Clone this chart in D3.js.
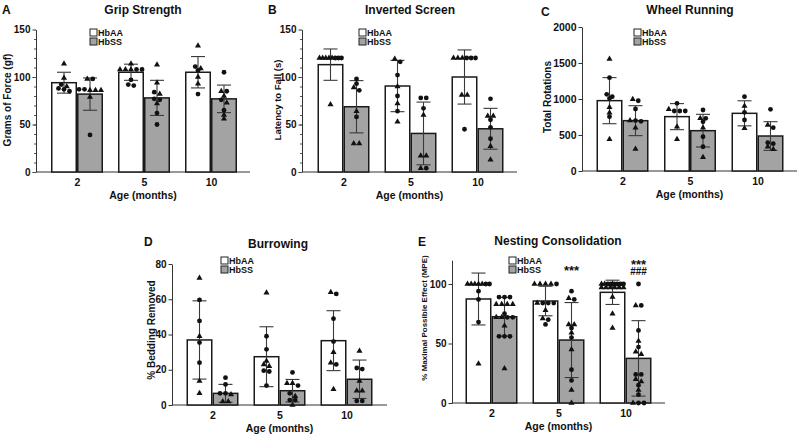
<!DOCTYPE html>
<html><head><meta charset="utf-8">
<script src="https://cdn.jsdelivr.net/npm/d3@7"></script>
<style>
body{margin:0;background:#fff;}
svg text{font-family:"Liberation Sans",Arial,sans-serif;font-weight:bold;fill:#111;}
</style></head>
<body><svg id="c" width="800" height="437"></svg>
<script>
const ages = ["2", "5", "10"];
const groups = ["HbAA", "HbSS"];

// A: Grip Strength
const gripMeanAA = [94, 105, 105], gripSdAA = [11, 8.5, 16.5];
const gripMeanSS = [82, 78, 77], gripSdSS = [17, 18.5, 14.5];
const gripTriAA = [[114, 99, 90], [114, 108, 108, 108], [133, 109, 100, 93]];
const gripCirAA = [[92, 88, 87, 85], [108, 108, 97, 92, 91], [111, 107, 82]];
const gripTriSS = [[98, 86, 86, 86, 79], [113, 94, 82, 72], [85, 80, 73, 60, 56]];
const gripCirSS = [[98, 87, 87, 39], [84, 77, 76, 62, 50], [105, 85, 76, 65]];

// B: Inverted Screen
const invMeanAA = [113, 90.5, 100], invSdAA = [16.5, 27, 28.5];
const invMeanSS = [68.7, 40.6, 45.5], invSdSS = [27.5, 33, 21.5];
const invTriAA = [[120, 120, 120, 120, 120, 71], [119, 90, 72, 53], [120, 120, 120, 81, 81]];
const invCirAA = [[120, 120, 120], [116, 102, 80, 64], [120, 120, 120, 45]];
const invTriSS = [[89, 64, 30, 30], [60, 17, 17, 4], [59, 59, 27, 13]];
const invCirSS = [[98, 93, 86, 58], [78, 78, 67, 4], [77, 55, 47, 35]];

// C: Wheel Running
const wheelMeanAA = [977, 755, 801], wheelSdAA = [320, 181, 174];
const wheelMeanSS = [699, 560, 486], wheelSdSS = [208, 227, 199];
const wheelTriAA = [[1556, 885, 810, 440], [857, 615, 440], [903, 593]];
const wheelCirAA = [[1296, 1065, 1032, 1010, 755], [940, 833, 833, 833], [1032, 815, 708]];
const wheelTriSS = [[995, 700, 600, 305], [732, 600, 190], [639, 337, 301]];
const wheelCirSS = [[976, 861, 700, 690], [847, 732, 685, 476, 337], [857, 602, 393, 380]];

// D: Burrowing
const burMeanAA = [36.9, 27.4, 36.5], burSdAA = [22.2, 17, 17];
const burMeanSS = [6.6, 8.1, 14.6], burSdSS = [5.1, 6.4, 10.9];
const burTriAA = [[72, 39, 13.6, 6.6], [63.7, 25, 23, 22], [64, 30, 24, 9]];
const burCirAA = [[59.6, 47.7, 35.4, 24], [39, 31.6, 19.5, 19, 11], [63, 49, 36, 23]];
const burTriSS = [[6, 2, 2], [12.3, 12.3, 5, 0], [30.6, 13.6, 8.1, 8.1]];
const burCirSS = [[15.5, 11.7, 6.6, 6.6], [18.5, 11, 6.6, 2.8, 2.8], [21, 20.4, 2.3, 2.3]];

// E: Nesting Consolidation
const nestMeanAA = [87.4, 85.7, 93], nestSdAA = [21.8, 12.4, 10.2];
const nestMeanSS = [72.5, 52.9, 37.5], nestSdSS = [16.2, 31.5, 31.7];
const nestTriAA = [[100, 100, 100, 100, 100, 33], [100, 100, 100, 100, 84, 78, 71], [100, 100, 97, 97, 97, 97, 97, 97, 89, 75, 63]];
const nestCirAA = [[100, 100, 94, 87, 68], [100, 84, 84, 84, 70, 66], [100, 100, 100, 100, 100, 100]];
const nestTriSS = [[83, 83, 83, 83, 72, 72, 65, 29], [88, 66, 66, 59, 45, 11, 0], [82, 52, 43, 41, 20, 18, 11, 0]];
const nestCirSS = [[89, 89, 89, 75, 72, 72, 56, 56, 56], [94, 87, 63, 55, 28, 19], [100, 82, 61, 47, 24, 24, 15, 7, 0, 0]];
const nestSig = [["", ""], ["***", ""], ["***", "###"]];

const svg = d3.select("#c");
const fills = {HbAA: "#ffffff", HbSS: "#a3a3a3"};
const BW = 26;

function panel(cfg) {
  const g = svg.append("g");
  const y = d3.scaleLinear().domain(cfg.domain).range(cfg.yr);
  const xc = d3.scalePoint().domain(ages).range(cfg.centers);
  const xg = d3.scaleBand().domain(groups).range([-BW, BW]);

  // axes
  const ya = d3.axisLeft(y).tickValues(cfg.ticks).tickSize(3.5).tickSizeOuter(0).tickPadding(2).tickFormat(d3.format("d"));
  const yg = g.append("g").attr("transform", `translate(${cfg.ax},0)`).call(ya);
  yg.selectAll("text").style("font-size", cfg.tf + "px").style("font-weight", "bold");
  yg.selectAll("path,line").attr("stroke", "#333");
  if (cfg.minor) {
    const mg = g.append("g").attr("transform", `translate(${cfg.ax},0)`)
      .call(d3.axisLeft(y).tickValues(d3.range(cfg.domain[0], cfg.domain[1], cfg.minor)).tickSize(2).tickFormat(""));
    mg.select(".domain").remove();
    mg.selectAll("line").attr("stroke", "#555");
  }
  g.append("line").attr("x1", cfg.ax).attr("x2", cfg.end).attr("y1", y(0)).attr("y2", y(0))
    .attr("stroke", "#333").attr("stroke-width", 1);
  const xa = g.append("g").attr("transform", `translate(0,${y(0)})`)
    .call(d3.axisBottom(xc).tickSize(0).tickPadding(7));
  xa.select(".domain").remove();
  xa.selectAll("text").style("font-size", "10.5px").style("font-weight", "bold");

  // titles
  g.append("text").attr("x", cfg.title[1]).attr("y", cfg.title[2]).attr("text-anchor", "middle")
    .style("font-size", "12px").text(cfg.title[0]);
  g.append("text").attr("x", cfg.letter[1]).attr("y", cfg.letter[2])
    .style("font-size", "12px").text(cfg.letter[0]);
  g.append("text").attr("x", (cfg.ax + cfg.end) / 2).attr("y", y(0) + 27).attr("text-anchor", "middle")
    .style("font-size", "10.5px").text("Age (months)");
  g.append("text").attr("transform", `translate(${cfg.ylab[1]},${cfg.ylab[2]}) rotate(-90)`)
    .attr("text-anchor", "middle").style("font-size", cfg.ylab[3] + "px").text(cfg.ylab[0]);

  // legend
  groups.forEach((k, i) => {
    g.append("rect").attr("x", cfg.leg[0]).attr("y", cfg.leg[1] + i * 9).attr("width", 7).attr("height", 7)
      .attr("fill", fills[k]).attr("stroke", "#222").attr("stroke-width", 1);
    g.append("text").attr("x", cfg.leg[0] + 8).attr("y", cfg.leg[1] + i * 9 + 7)
      .style("font-size", "9px").text(k);
  });

  // bars / error / points
  const sets = {
    HbAA: {m: cfg.mAA, s: cfg.sAA, t: cfg.tAA, c: cfg.cAA},
    HbSS: {m: cfg.mSS, s: cfg.sSS, t: cfg.tSS, c: cfg.cSS}
  };
  groups.forEach(k => {
    const d = sets[k];
    ages.forEach((a, i) => {
      const x0 = xc(a) + xg(k);
      const cx = x0 + BW / 2;
      g.append("rect").attr("x", x0 + 0.75).attr("width", BW - 1.5)
        .attr("y", y(d.m[i])).attr("height", y(0) - y(d.m[i]))
        .attr("fill", fills[k]).attr("stroke", "#1a1a1a").attr("stroke-width", 1.5);
      const lo = Math.max(cfg.domain[0], d.m[i] - d.s[i]), hi = d.m[i] + d.s[i];
      const eb = g.append("g").attr("stroke", "#3a3a3a").attr("stroke-width", 1.1);
      eb.append("line").attr("x1", cx).attr("x2", cx).attr("y1", y(lo)).attr("y2", y(hi));
      [lo, hi].forEach(v => eb.append("line").attr("x1", cx - 7).attr("x2", cx + 7).attr("y1", y(v)).attr("y2", y(v)));

      // points with simple dodge
      const pts = d.t[i].map(v => ({v, s: "t"})).concat(d.c[i].map(v => ({v, s: "c"})));
      pts.sort((p, q) => q.v - p.v);
      const rows = [];
      pts.forEach(p => {
        const py = y(p.v);
        const r = rows[rows.length - 1];
        if (r && Math.abs(py - r.y) <= 3) r.p.push(p); else rows.push({y: py, p: [p]});
      });
      rows.forEach(r => {
        const n = r.p.length;
        const sp = n > 1 ? Math.min(5.5, (BW - 4) / (n - 1)) : 0;
        r.p.forEach((p, j) => {
          const px = cx + (j - (n - 1) / 2) * sp;
          const py = y(p.v);
          if (p.s === "c") g.append("circle").attr("cx", px).attr("cy", py).attr("r", 2.4).attr("fill", "#111");
          else g.append("path").attr("d", d3.symbol(d3.symbolTriangle, 16)()).attr("transform", `translate(${px},${py})`).attr("fill", "#111");
        });
      });
      if (cfg.sig && k === "HbSS") {
        const sg = cfg.sig[i];
        if (sg[0] && !sg[1]) g.append("text").attr("x", cx).attr("y", cfg.sigY[0]).attr("text-anchor", "middle").style("font-size", "13px").text(sg[0]);
        if (sg[1]) {
          const t = g.append("text").attr("x", cx).attr("y", cfg.sigY[1]).attr("text-anchor", "middle");
          t.append("tspan").attr("x", cx).style("font-size", "13px").text(sg[0]);
          t.append("tspan").attr("x", cx).attr("dy", 5.5).style("font-size", "10px").text(sg[1]);
        }
      }
    });
  });
}

panel({domain: [0, 150], yr: [172, 29.5], ticks: [0, 50, 100, 150], minor: 10, ax: 36, end: 250, centers: [77, 211], tf: 10,
  title: ["Grip Strength", 143, 14], letter: ["A", 2, 14], ylab: ["Grams of Force (gf)", 10.5, 100, 10], leg: [90, 29],
  mAA: gripMeanAA, sAA: gripSdAA, mSS: gripMeanSS, sSS: gripSdSS, tAA: gripTriAA, cAA: gripCirAA, tSS: gripTriSS, cSS: gripCirSS});
panel({domain: [0, 150], yr: [172, 29.5], ticks: [0, 50, 100, 150], minor: 10, ax: 302, end: 517, centers: [343.5, 477.5], tf: 10,
  title: ["Inverted Screen", 410, 14], letter: ["B", 268, 14], ylab: ["Latency to Fall (s)", 280.5, 100, 9.5], leg: [359, 29],
  mAA: invMeanAA, sAA: invSdAA, mSS: invMeanSS, sSS: invSdSS, tAA: invTriAA, cAA: invCirAA, tSS: invTriSS, cSS: invCirSS});
panel({domain: [0, 2000], yr: [171, 27], ticks: [0, 500, 1000, 1500, 2000], ax: 582, end: 797, centers: [622.5, 757.5], tf: 10.5,
  title: ["Wheel Running", 690, 14], letter: ["C", 541, 16], ylab: ["Total Rotations", 551, 97, 10], leg: [634, 29],
  mAA: wheelMeanAA, sAA: wheelSdAA, mSS: wheelMeanSS, sSS: wheelSdSS, tAA: wheelTriAA, cAA: wheelCirAA, tSS: wheelTriSS, cSS: wheelCirSS});
panel({domain: [0, 80], yr: [405, 264], ticks: [0, 20, 40, 60, 80], ax: 172, end: 387, centers: [212.5, 346.5], tf: 10,
  title: ["Burrowing", 278, 248], letter: ["D", 144, 246], ylab: ["% Bedding Removed", 154.5, 330, 10], leg: [221, 257],
  mAA: burMeanAA, sAA: burSdAA, mSS: burMeanSS, sSS: burSdSS, tAA: burTriAA, cAA: burCirAA, tSS: burTriSS, cSS: burCirSS});
panel({domain: [0, 120], yr: [403, 260.2], ticks: [0, 50, 100], ax: 452, end: 665, centers: [491.5, 625.5], tf: 10,
  title: ["Nesting Consolidation", 558, 245], letter: ["E", 418, 246], ylab: ["% Maximal Possible Effect (MPE)", 427, 318, 8], leg: [509, 257],
  mAA: nestMeanAA, sAA: nestSdAA, mSS: nestMeanSS, sSS: nestSdSS, tAA: nestTriAA, cAA: nestCirAA, tSS: nestTriSS, cSS: nestCirSS,
  sig: nestSig, sigY: [275, 269]});
</script></body></html>
